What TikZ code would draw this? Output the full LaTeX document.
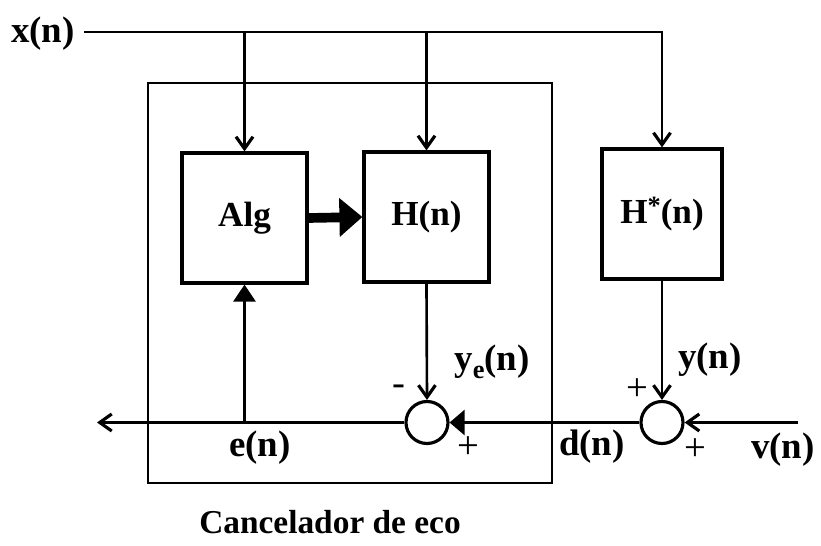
\documentclass[tikz,border=0pt]{standalone}
\usepackage{fontspec}
\setmainfont{Liberation Serif}
\usetikzlibrary{arrows.meta, positioning}
\tikzset{
  bloque/.style={draw, line width=1.8pt, minimum width=2.5cm, minimum height=2.6cm,
    inner sep=0pt, font=\fontsize{20}{24}\selectfont\bfseries},
  suma/.style={draw, circle, line width=1.8pt, minimum size=0.84cm, inner sep=0pt},
  etq/.style={font=\fontsize{21}{24}\selectfont\bfseries, inner sep=0pt},
  signo/.style={font=\fontsize{22}{24}\selectfont, inner sep=0pt}
}
\newcommand{\sub}[1]{\raisebox{-0.45ex}{\fontsize{15}{15}\selectfont #1}}

\begin{document}
\begin{tikzpicture}[line width=1.5pt, >={Straight Barb[length=2.4mm, width=3.4mm, line width=1.8pt]}]
  \useasboundingbox (0,0) rectangle (16.42,10.9);
  % cancelador de eco
  \node[draw, line width=0.8pt, minimum width=8.08cm, minimum height=8cm, inner sep=0pt] (marco) at (7.0,5.24) {};
  \node[etq, font=\fontsize{19}{22}\selectfont\bfseries] (cap) at (6.6,0.46) {Cancelador de eco};
  \node[bloque] (alg) at (4.89,6.54) {Alg};
  \node[bloque] (h) at (8.53,6.56) {H(n)};
  \node[bloque, minimum width=2.4cm] (hs) at (13.24,6.62) {H\raisebox{0.55ex}{\fontsize{15}{15}\selectfont *}(n)};
  \node[suma] (s1) at (8.54,2.45) {};
  \node[suma] (s2) at (13.24,2.45) {};
  \node[etq] (xn) at (0.86,10.22) {x(n)};
  \coordinate (xfin) at (13.24,10.26);
  \coordinate (vin) at (15.96,2.45);
  \coordinate (eout) at (1.94,2.45);
  % entrada x(n)
  \draw[->] ([xshift=1.6mm]xn.east |- xfin) -- (xfin) -- (hs.north);
  \draw[->] (alg.north |- xfin) -- (alg.north);
  \draw[->] (h.north |- xfin) -- (h.north);
  \draw[line width=5.5pt, -{Triangle[length=4.6mm, width=7.5mm]}] (alg.east) -- (h.west);
  % sumadores
  \draw[->] (h.south) -- (s1.north);
  \draw[->] (hs.south) -- (s2.north);
  \draw[->] (vin) -- (s2.east);
  \draw[-{Triangle[length=3mm, width=5mm]}] (s2.west) -- (s1.east);
  \draw[->] (s1.west) -- (eout);
  \draw[-{Triangle[length=3.4mm, width=4.4mm]}] (alg.south |- eout) -- (alg.south);
  % etiquetas
  \node[etq] (ye) at (9.84,3.66) {y\sub{e}(n)};
  \node[etq] (yn) at (14.2,3.7) {y(n)};
  \node[etq] (dn) at (11.84,1.96) {d(n)};
  \node[etq] (vn) at (15.66,1.9) {v(n)};
  \node[etq] (en) at (5.2,1.94) {e(n)};
  \node[signo] (m1) at (7.98,3.1) {-};
  \node[signo] (p1) at (9.36,1.94) {+};
  \node[signo] (p2) at (12.74,3.1) {+};
  \node[signo] (p3) at (13.9,1.9) {+};
\end{tikzpicture}
\end{document}
